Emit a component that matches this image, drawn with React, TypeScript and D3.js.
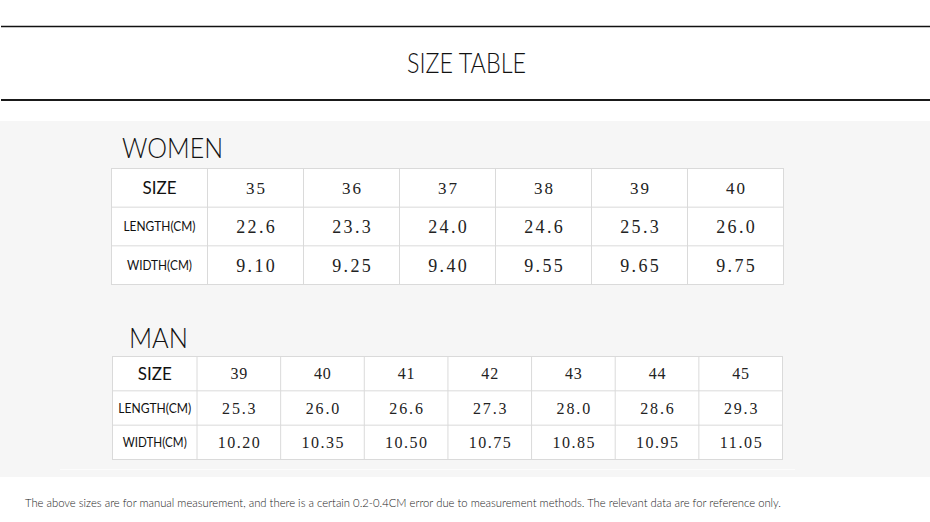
import React from 'react'
import * as d3 from 'd3'

const rowLabels = ['SIZE', 'LENGTH(CM)', 'WIDTH(CM)']

const womenSizes = ['35', '36', '37', '38', '39', '40']
const womenLength = ['22.6', '23.3', '24.0', '24.6', '25.3', '26.0']
const womenWidth = ['9.10', '9.25', '9.40', '9.55', '9.65', '9.75']

const manSizes = ['39', '40', '41', '42', '43', '44', '45']
const manLength = ['25.3', '26.0', '26.6', '27.3', '28.0', '28.6', '29.3']
const manWidth = ['10.20', '10.35', '10.50', '10.75', '10.85', '10.95', '11.05']

const note =
  'The above sizes are for manual measurement, and there is a certain 0.2-0.4CM error due to measurement methods. The relevant data are for reference only.'

const W = 930
const H = 522
const geo = '"Lato", "Noto Sans", sans-serif'
const serif = '"Liberation Serif", "DejaVu Serif", serif'
const border = '#dadada'

interface TableProps {
  title: string
  titleX: number
  titleY: number
  titleLen: number
  sizes: string[]
  lengths: string[]
  widths: string[]
  x0: number
  labelW: number
  x1: number
  y0: number
  y1: number
  labelFont: number[]
  labelLen: number[]
  sizeFont: number
  valueFont: number
  charW: number
}

function SizeTable(p: TableProps) {
  const rows = [p.sizes, p.lengths, p.widths]
  const x = d3.scaleBand<string>().domain(p.sizes).range([p.x0 + p.labelW, p.x1])
  const y = d3.scaleBand<string>().domain(rowLabels).range([p.y0, p.y1])
  const labelCx = p.x0 + p.labelW / 2

  return (
    <g>
      <text
        x={p.titleX}
        y={p.titleY}
        fontFamily={geo}
        fontWeight={300}
        fontSize={28}
        textLength={p.titleLen}
        lengthAdjust="spacingAndGlyphs"
        fill="#111"
      >
        {p.title}
      </text>
      <rect x={p.x0} y={p.y0} width={p.x1 - p.x0} height={p.y1 - p.y0} fill="#fff" stroke={border} />
      {rowLabels.slice(1).map((r) => (
        <line key={r} x1={p.x0} x2={p.x1} y1={y(r)} y2={y(r)} stroke={border} />
      ))}
      {[p.x0 + p.labelW, ...p.sizes.slice(1).map((s) => x(s) as number)].map((xv, i) => (
        <line key={i} x1={xv} x2={xv} y1={p.y0} y2={p.y1} stroke={border} />
      ))}
      {rowLabels.map((r, ri) => {
        const cy = (y(r) as number) + y.bandwidth() / 2
        return (
          <g key={r}>
            <text
              x={labelCx}
              y={cy}
              dy="0.36em"
              textAnchor="middle"
              fontFamily={geo}
              fontSize={p.labelFont[ri]}
              textLength={p.labelLen[ri]}
              lengthAdjust="spacingAndGlyphs"
              fill="#111"
            >
              {r}
            </text>
            {rows[ri].map((v, ci) => (
              <text
                key={ci}
                x={(x(p.sizes[ci]) as number) + x.bandwidth() / 2}
                y={cy}
                dy="0.36em"
                textAnchor="middle"
                fontFamily={serif}
                fontSize={ri === 0 ? p.sizeFont : p.valueFont}
                textLength={v.length * p.charW}
                lengthAdjust="spacing"
                fill="#222"
              >
                {v}
              </text>
            ))}
          </g>
        )
      })}
    </g>
  )
}

export default function App() {
  return (
    <svg
      width={W}
      height={H}
      style={{ position: 'absolute', left: 0, top: 0, background: '#fff' }}
    >
      <line x1={1} x2={W} y1={26.5} y2={26.5} stroke="#111" strokeWidth={1.5} />
      <text
        x={466.5}
        y={73}
        textAnchor="middle"
        fontFamily={geo}
        fontWeight={300}
        fontSize={27}
        textLength={119}
        lengthAdjust="spacingAndGlyphs"
        fill="#111"
      >
        SIZE TABLE
      </text>
      <line x1={1} x2={W} y1={100} y2={100} stroke="#1a1a1a" strokeWidth={2.2} />

      <rect x={0} y={121} width={W} height={356} fill="#f6f6f6" />
      <line x1={60} x2={795} y1={469.5} y2={469.5} stroke="#fcfcfc" />

      <SizeTable
        title="WOMEN"
        titleX={122}
        titleY={158}
        titleLen={101}
        sizes={womenSizes}
        lengths={womenLength}
        widths={womenWidth}
        x0={111.5}
        labelW={96}
        x1={783.5}
        y0={168.5}
        y1={284.5}
        labelFont={[17, 13, 13]}
        labelLen={[34, 72, 65]}
        sizeFont={17}
        valueFont={18}
        charW={9.6}
      />

      <SizeTable
        title="MAN"
        titleX={129}
        titleY={348}
        titleLen={59}
        sizes={manSizes}
        lengths={manLength}
        widths={manWidth}
        x0={112.5}
        labelW={84.5}
        x1={782.5}
        y0={356.5}
        y1={459.5}
        labelFont={[17, 13, 13]}
        labelLen={[34, 73, 64]}
        sizeFont={16}
        valueFont={16}
        charW={8.4}
      />

      <text
        x={25}
        y={507}
        fontFamily={geo}
        fontWeight={300}
        fontSize={12}
        textLength={756}
        lengthAdjust="spacingAndGlyphs"
        fill="#1a1a1a"
      >
        {note}
      </text>
    </svg>
  )
}
